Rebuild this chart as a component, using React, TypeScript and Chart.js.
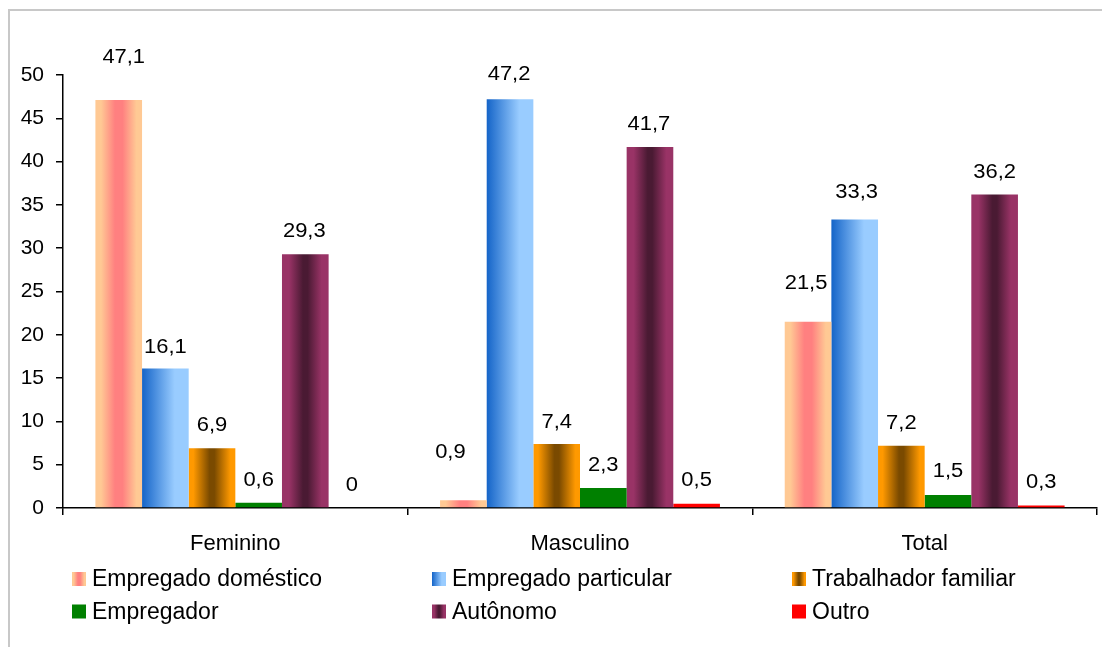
import { useEffect, useRef } from 'react';
import { Chart, registerables } from 'chart.js';

Chart.register(...registerables);

// ---- data ----
const categories = ['Feminino', 'Masculino', 'Total'];
const seriesNames = [
  'Empregado doméstico',
  'Empregado particular',
  'Trabalhador familiar',
  'Empregador',
  'Autônomo',
  'Outro',
];
const empregadoDomestico = [47.1, 0.9, 21.5];
const empregadoParticular = [16.1, 47.2, 33.3];
const trabalhadorFamiliar = [6.9, 7.4, 7.2];
const empregador = [0.6, 2.3, 1.5];
const autonomo = [29.3, 41.7, 36.2];
const outro = [0, 0.5, 0.3];
const yMin = 0;
const yMax = 50;
const yStep = 5;

// ---- styles ----
type Stops = [number, string][];
const fillStops: Stops[] = [
  [[0, '#FFC994'], [0.12, '#FFC994'], [0.42, '#FF8080'], [0.58, '#FF8080'], [0.88, '#FFC994'], [1, '#FFC994']],
  [[0, '#1464C8'], [0.7, '#99CCFF'], [1, '#99CCFF']],
  [[0, '#FF9900'], [0.1, '#FF9900'], [0.45, '#7A4A00'], [0.55, '#7A4A00'], [0.9, '#FF9900'], [1, '#FF9900']],
  [[0, '#008000']],
  [[0, '#993366'], [0.15, '#993366'], [0.45, '#4A1A33'], [0.55, '#4A1A33'], [0.85, '#993366'], [1, '#993366']],
  [[0, '#FF0000']],
];
const seriesValues = [empregadoDomestico, empregadoParticular, trabalhadorFamiliar, empregador, autonomo, outro];

// value-label placement (pixels above the bar top / horizontal nudge), per series and category
const labelRaise = [
  [42.5, 48, 38],
  [21, 24.5, 27],
  [22.5, 22, 22],
  [22.5, 23, 24],
  [22.5, 23, 22.5],
  [22.5, 23, 23],
];
const labelShift = [
  [5, -13, -2],
  [0, -1, 2],
  [0, 0, 0],
  [0, 0, 0],
  [-1, -1, 0],
  [0, 0, 0],
];

const FONT = "'Liberation Sans', Arial, sans-serif";
const CAT_PCT = 0.812;
const W = 1102;
const H = 639;

function gradientFor(c: CanvasRenderingContext2D, stops: Stops, left: number, right: number): any {
  if (stops.length === 1) return stops[0][1];
  if (!isFinite(left) || !isFinite(right) || right - left < 0.5) return stops[0][1];
  const g = c.createLinearGradient(left, 0, right, 0);
  stops.forEach(([o, col]) => g.addColorStop(o, col));
  return g;
}

const makeBg = (stops: Stops) => (ctx: any) => {
  if (stops.length === 1) return stops[0][1];
  const chart = ctx.chart;
  const el = ctx.element;
  let left = NaN;
  let right = NaN;
  if (el && typeof el.x === 'number' && typeof el.width === 'number' && isFinite(el.x) && isFinite(el.width)) {
    left = el.x - el.width / 2;
    right = el.x + el.width / 2;
  } else {
    const xs = chart.scales && chart.scales.x;
    if (xs && isFinite(xs.width) && xs.width > 0) {
      const center = xs.getPixelForValue(ctx.dataIndex);
      const cw = xs.width / categories.length;
      const group = cw * CAT_PCT;
      const bw = group / seriesNames.length;
      left = center - group / 2 + ctx.datasetIndex * bw;
      right = left + bw;
    }
  }
  return gradientFor(chart.ctx, stops, left, right);
};

const fmt = (v: number) => String(v).replace('.', ',');

const dataLabelPlugin = {
  id: 'dataLabels',
  afterDatasetsDraw(chart: any) {
    const c: CanvasRenderingContext2D = chart.ctx;
    const sx = 1.07;
    chart.data.datasets.forEach((ds: any, i: number) => {
      const meta = chart.getDatasetMeta(i);
      meta.data.forEach((el: any, j: number) => {
        const x = el.x + labelShift[i][j];
        const y = el.y - labelRaise[i][j];
        c.save();
        c.font = `20.5px ${FONT}`;
        c.fillStyle = '#000';
        c.textAlign = 'center';
        c.textBaseline = 'middle';
        c.translate(x, y);
        c.scale(sx, 1);
        c.fillText(fmt(ds.data[j]), 0, 0);
        c.restore();
      });
    });
  },
};

const legendPlugin = {
  id: 'gridLegend',
  afterDraw(chart: any) {
    const c: CanvasRenderingContext2D = chart.ctx;
    const area = chart.chartArea;
    c.save();
    c.font = `23px ${FONT}`;
    c.textAlign = 'left';
    c.textBaseline = 'middle';
    chart.data.datasets.forEach((ds: any, i: number) => {
      const col = i % 3;
      const row = Math.floor(i / 3);
      const x = area.left + 9 + col * 360;
      const y = area.bottom + 71 + row * 32.5;
      c.fillStyle = gradientFor(c, fillStops[i], x, x + 14);
      c.fillRect(x, y - 7, 14, 14);
      c.fillStyle = '#000';
      c.fillText(ds.label, x + 20, y + 1);
    });
    c.restore();
  },
};

export default function App() {
  const ref = useRef<HTMLCanvasElement | null>(null);

  useEffect(() => {
    if (!ref.current) return;
    const chart = new Chart(ref.current, {
      type: 'bar',
      data: {
        labels: categories,
        datasets: seriesNames.map((name, i) => ({
          label: name,
          data: seriesValues[i],
          backgroundColor: makeBg(fillStops[i]),
          borderWidth: 0,
          categoryPercentage: CAT_PCT,
          barPercentage: 1,
        })),
      },
      options: {
        responsive: false,
        animation: false,
        devicePixelRatio: 1,
        layout: { padding: { top: 67, right: 13, left: 0, bottom: 89 } },
        plugins: {
          legend: { display: false },
          tooltip: { enabled: false },
        },
        scales: {
          x: {
            grid: {
              offset: true,
              drawOnChartArea: false,
              drawTicks: true,
              tickLength: 7,
              color: '#000',
              lineWidth: 1.5,
            },
            border: { display: true, color: '#000', width: 1.5 },
            ticks: { color: '#000', font: { family: FONT, size: 22 }, padding: 16 },
            afterFit: (s: any) => {
              s.height = 50;
            },
          },
          y: {
            min: yMin,
            max: yMax,
            grid: {
              drawOnChartArea: false,
              drawTicks: true,
              tickLength: 7,
              color: '#000',
              lineWidth: 1.5,
            },
            border: { display: true, color: '#000', width: 1.5 },
            ticks: { stepSize: yStep, color: '#000', font: { family: FONT, size: 21 }, padding: 12 },
            afterFit: (s: any) => {
              s.width = 55;
            },
          },
        },
      },
      plugins: [dataLabelPlugin, legendPlugin],
    });
    chart.update();
    return () => chart.destroy();
  }, []);

  return (
    <div style={{ position: 'relative', width: W, height: H, overflow: 'hidden', background: '#fff' }}>
      <div
        style={{
          position: 'absolute',
          top: 1,
          left: 0,
          width: 1200,
          height: 800,
          border: '2px solid #C8C8C8',
          boxSizing: 'border-box',
        }}
      />
      <canvas ref={ref} width={W} height={H} style={{ position: 'absolute', top: 0, left: 0, width: W, height: H }} />
    </div>
  );
}
